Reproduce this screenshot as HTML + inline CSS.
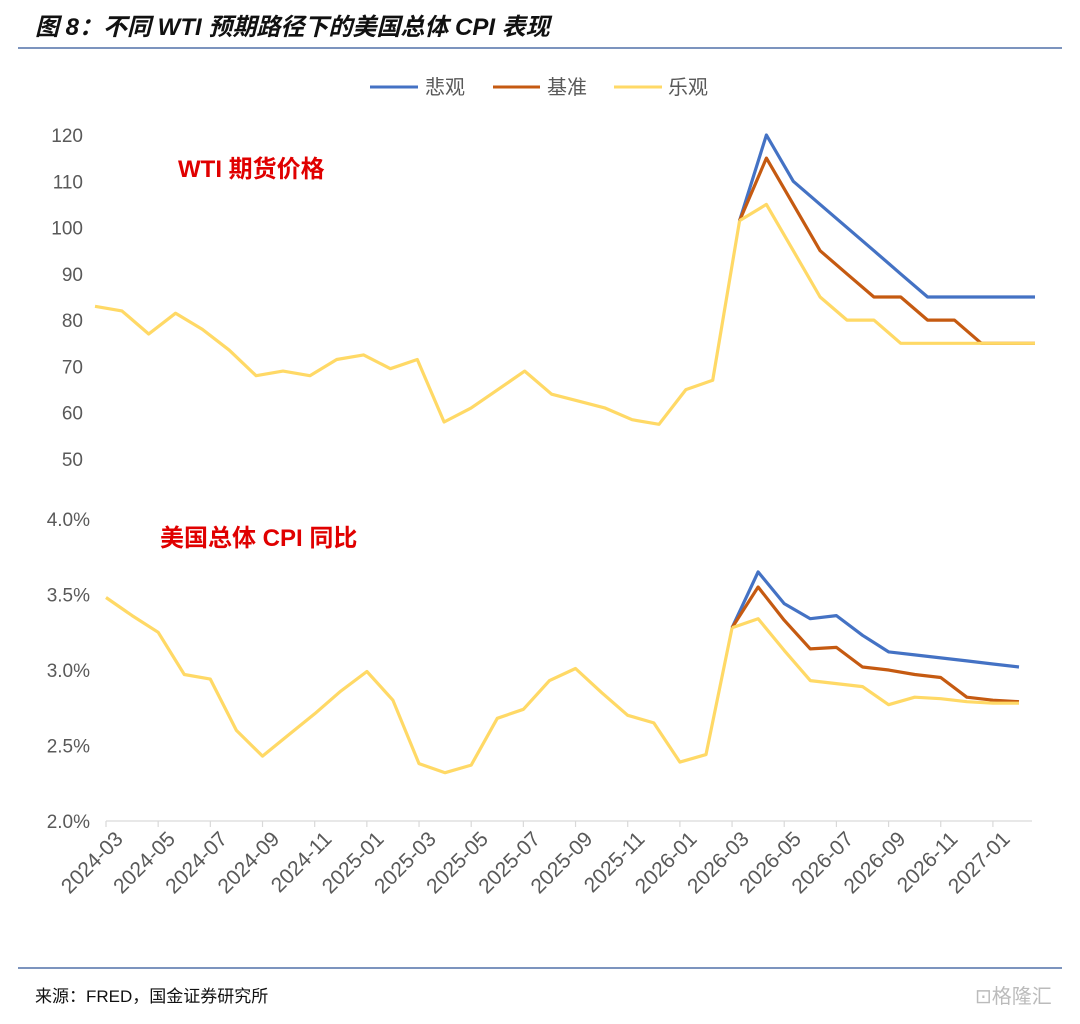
<!DOCTYPE html>
<html><head><meta charset="utf-8">
<style>
body{margin:0;background:#fff;}
svg text{font-family:"Liberation Sans","Noto Sans CJK SC",sans-serif;}
</style></head>
<body>
<svg id="c" width="1080" height="1019" viewBox="0 0 1080 1019" xmlns="http://www.w3.org/2000/svg">
<text x="35" y="35" font-size="24" font-weight="bold" font-style="italic" fill="#111">图 8：不同 WTI 预期路径下的美国总体 CPI 表现</text>
<line x1="18" y1="48" x2="1062" y2="48" stroke="#2E5597" stroke-width="1.2"/>
<g>
<line x1="370" y1="87" x2="418" y2="87" stroke="#4472C4" stroke-width="3"/>
<text x="425" y="94" font-size="20" fill="#595959">悲观</text>
<line x1="493" y1="87" x2="540" y2="87" stroke="#C55A11" stroke-width="3"/>
<text x="547" y="94" font-size="20" fill="#595959">基准</text>
<line x1="614" y1="87" x2="662" y2="87" stroke="#FFD966" stroke-width="3"/>
<text x="668" y="94" font-size="20" fill="#595959">乐观</text>
</g>
<text x="178" y="177" font-size="24" font-weight="bold" fill="#E00000">WTI 期货价格</text>
<text x="160" y="546" font-size="24" font-weight="bold" fill="#E00000">美国总体 CPI 同比</text>
<g id="plot"></g>
<line x1="18" y1="968" x2="1062" y2="968" stroke="#2E5597" stroke-width="1.2"/>
<text x="35" y="1002" font-size="17" fill="#111">来源：FRED，国金证券研究所</text>
<text x="975" y="1003" font-size="20" fill="#bbb">⊡格隆汇</text>
</svg>
<script>
const months = ["2024-03","2024-04","2024-05","2024-06","2024-07","2024-08","2024-09","2024-10","2024-11","2024-12","2025-01","2025-02","2025-03","2025-04","2025-05","2025-06","2025-07","2025-08","2025-09","2025-10","2025-11","2025-12","2026-01","2026-02","2026-03","2026-04","2026-05","2026-06","2026-07","2026-08","2026-09","2026-10","2026-11","2026-12","2027-01","2027-02"];
const wtiHist = [83,82,77,81.5,78,73.5,68,69,68,71.5,72.5,69.5,71.5,58,61,65,69,64,62.5,61,58.5,57.5,65,67,101.5];
const wtiPess = [120,110,105,100,95,90,85,85,85,85,85];
const wtiBase = [115,105,95,90,85,85,80,80,75,75,75];
const wtiOpt = [105,95,85,80,80,75,75,75,75,75,75];
const cpiHist = [3.48,3.36,3.25,2.97,2.94,2.60,2.43,2.57,2.71,2.86,2.99,2.80,2.38,2.32,2.37,2.68,2.74,2.93,3.01,2.85,2.70,2.65,2.39,2.44,3.28];
const cpiPess = [3.65,3.44,3.34,3.36,3.23,3.12,3.10,3.08,3.06,3.04,3.02];
const cpiBase = [3.55,3.33,3.14,3.15,3.02,3.00,2.97,2.95,2.82,2.80,2.79];
const cpiOpt = [3.34,3.13,2.93,2.91,2.89,2.77,2.82,2.81,2.79,2.78,2.78];
const wtiTicks = [50,60,70,80,90,100,110,120];
const cpiTicks = [2.0,2.5,3.0,3.5,4.0];

const NS="http://www.w3.org/2000/svg";
const g=document.getElementById('plot');
function mk(tag,attrs){const e=document.createElementNS(NS,tag);for(const k in attrs)e.setAttribute(k,attrs[k]);g.appendChild(e);return e;}
const xW=i=>95+i*(1035-95)/(months.length-1);
const yW=v=>459-(v-50)*(459-135)/70;
const xC=i=>106+i*(1019-106)/(months.length-1);
const yC=v=>821-(v-2)*(821-519)/2;
const colors={pess:"#4472C4",base:"#C55A11",opt:"#FFD966"};

wtiTicks.forEach(t=>{
  const e=mk('text',{x:83,y:yW(t)+7,'text-anchor':'end','font-size':19,fill:'#595959'});
  e.textContent=t;
  
  
});
cpiTicks.forEach(t=>{
  const e=mk('text',{x:90,y:yC(t)+7,'text-anchor':'end','font-size':19,fill:'#595959'});
  e.textContent=t.toFixed(1)+'%';
  
  
});
const ax=mk('line',{x1:106,y1:821,x2:1032,y2:821,stroke:'#D9D9D9','stroke-width':1.2});


months.forEach((m,i)=>{
  if(i%2!==0)return;
  const x=xC(i);
  const tk=mk('line',{x1:x,y1:821,x2:x,y2:827,stroke:'#D9D9D9','stroke-width':1.2});
  
  
  const e=mk('text',{x:x+8,y:830,'text-anchor':'end','font-size':21,fill:'#595959',transform:`rotate(-45 ${x+8} 830)`,'dominant-baseline':'hanging'});
  e.textContent=m;
  
  
});
function series(hist,fut,xf,yf,col,name){
  const start=fut?hist.length-1:0;
  const pts=(fut?[hist[hist.length-1]].concat(fut):hist).map((v,k)=>xf(start+k).toFixed(1)+','+yf(v).toFixed(1)).join(' ');
  const e=mk('polyline',{points:pts,fill:'none',stroke:col,'stroke-width':3.2,'stroke-linejoin':'round'});
  
  
}
series(wtiHist,wtiPess,xW,yW,colors.pess,'wti-pessimistic-line');
series(wtiHist,wtiBase,xW,yW,colors.base,'wti-base-line');
series(wtiHist,wtiOpt,xW,yW,colors.opt,'wti-optimistic-line');
series(wtiHist,null,xW,yW,colors.opt,'wti-history-line');
series(cpiHist,cpiPess,xC,yC,colors.pess,'cpi-pessimistic-line');
series(cpiHist,cpiBase,xC,yC,colors.base,'cpi-base-line');
series(cpiHist,cpiOpt,xC,yC,colors.opt,'cpi-optimistic-line');
series(cpiHist,null,xC,yC,colors.opt,'cpi-history-line');
</script>
</body></html>
